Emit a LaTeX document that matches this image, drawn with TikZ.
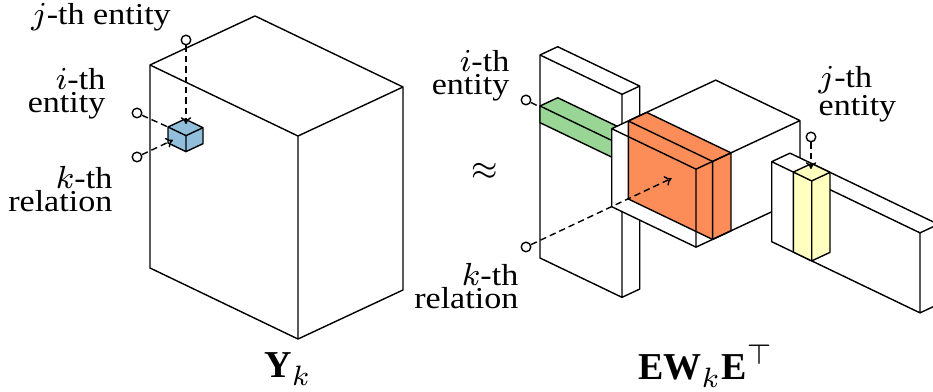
\documentclass[tikz,border=0pt]{standalone}
\usepackage{fontspec}
\setmainfont{Liberation Serif}
\newfontfamily\lblserif[FakeStretch=1.12]{Liberation Serif}
\usetikzlibrary{arrows.meta}
\definecolor{cellblue}{HTML}{91BFDB}
\definecolor{rowgreen}{HTML}{99D594}
\definecolor{sliceorange}{HTML}{FC8D59}
\definecolor{colyellow}{HTML}{FFFFBF}
\newcommand{\lblfont}{\lblserif\fontsize{7.6}{5.8}\selectfont\lineskip=0.3pt\relax}
\tikzset{
  iso/.style     = {x={(0.25pt,-0.12pt)}, y={(0.25pt,0.11675pt)}, z={(0pt,0.25pt)}},
  dasharr/.style = {-{To[length=1.7pt,width=2.6pt]}, dash pattern=on 1.6pt off 1pt},
  dashln/.style  = {dash pattern=on 1.6pt off 1pt},
  endring/.style = {circle, draw, fill=white, inner sep=0pt, minimum size=2.4pt},
  lbl/.style     = {font=\lblfont, inner sep=0pt},
  bigmath/.style = {font=\fontsize{9.5}{11}\selectfont, inner sep=0pt},
}
%% visible faces of a box: #1 origin (image px), #2 #3 #4 = lengths along x, y, z
\newcommand{\boxfill}[5]{%
  \begin{scope}[shift={#2}, iso]
    \fill[#1] (0,0,0) -- (#3,0,0) -- (#3,#4,0) -- (#3,#4,#5) -- (0,#4,#5) -- (0,0,#5) -- cycle;
  \end{scope}}
\newcommand{\boxedges}[4]{%
  \begin{scope}[shift={#1}, iso]
    \draw (0,0,0) -- (#2,0,0) -- (#2,#3,0) -- (#2,#3,#4) -- (0,#3,#4) -- (0,0,#4) -- cycle
          (0,0,#4) -- (#2,0,#4) -- (#2,#3,#4) (#2,0,#4) -- (#2,0,0);
  \end{scope}}
\newcommand{\solidbox}[5]{\boxfill{#1}{#2}{#3}{#4}{#5}\boxedges{#2}{#3}{#4}{#5}}

\begin{document}
\begin{tikzpicture}[x=0.25pt, y=-0.25pt, line width=0.35pt, line join=round]
\useasboundingbox (0,0) rectangle (933,392);

%% ---- (1) Tensor slice Y_k ----
\solidbox{white}{(150,268)}{148}{105}{203}
\solidbox{cellblue}{(168,143)}{18}{17}{16}

\node[endring] (jdotL) at (186,40) {};
\node[endring] (idotL) at (137,113) {};
\node[endring] (kdotL) at (137,157) {};
\coordinate (jtipL) at (186,124);
\coordinate (itipL) at (168,127);
\coordinate (ktipL) at (173,140);

\draw[dasharr] (jdotL) -- (jtipL);
\draw[dashln]  (idotL) -- (itipL);
\draw[dasharr] (kdotL) -- (ktipL);

\node[lbl, anchor=base] (jentL) at (101,25) {$j$-th entity};
\node[lbl, align=right, anchor=north east] (ientL) at (106,67.7) {$i$-th\\entity};
\node[lbl, align=right, anchor=north east] (krelL) at (113,165.6) {$k$-th\\relation};
\node[bigmath, anchor=base] (Yk) at (288,378) {$\mathbf{Y}_k$};

\node[bigmath, font=\fontsize{8.5}{10}\selectfont] (approx) at (485,172) {$\approx$};

%% ---- (2) E with i-th row ----
\solidbox{white}{(540,258)}{82}{17.7}{203}
\solidbox{rowgreen}{(540,122.7)}{82}{17.7}{16.7}

%% ---- (3) W with k-th slice ----
\boxfill{white}{(611.7,206.7)}{84.3}{104}{78}
\solidbox{sliceorange}{(628.3,199)}{84.3}{18.4}{78}
\boxedges{(611.7,206.7)}{84.3}{104}{78}

%% ---- (4) E^T with j-th column ----
\solidbox{white}{(771.7,241.7)}{148.3}{18.3}{80}
\solidbox{colyellow}{(793.3,252.1)}{18.4}{18.3}{80}

\node[endring] (idotM) at (526,100) {};
\node[endring] (kdotM) at (526,247) {};
\node[endring] (jdotR) at (811,137) {};
\coordinate (itipM) at (540,107);
\coordinate (ktipM) at (671.7,178.3);
\coordinate (jtipR) at (811,169);

\draw[dashln]  (idotM) -- (itipM);
\draw[dasharr] (kdotM) -- (ktipM);
\draw[dasharr] (jdotR) -- (jtipR);

\node[lbl, align=right, anchor=north east] (ientM) at (510,49.2) {$i$-th\\entity};
\node[lbl, align=right, anchor=north east] (krelM) at (519,262.2) {$k$-th\\relation};
\node[lbl, align=left, anchor=north west] (jentR) at (818,65.9) {$j$-th\\entity};
\node[bigmath, anchor=base] (EWE) at (706,380) {$\mathbf{E}\mathbf{W}_k\mathbf{E}^{\top}$};

\end{tikzpicture}
\end{document}
